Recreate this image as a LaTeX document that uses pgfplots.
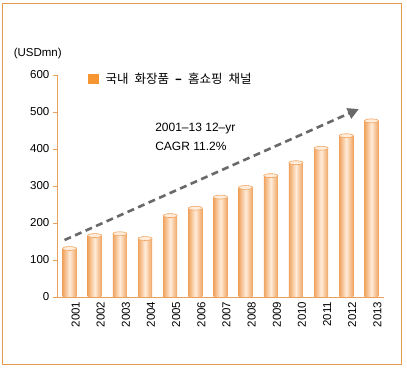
\documentclass[border=0pt]{standalone}
\usepackage{pgfplots}
\pgfplotsset{compat=1.18}
\usepackage{fontspec}
\setmainfont{Liberation Sans}
\newfontfamily\kr{Noto Sans CJK KR}
\usetikzlibrary{arrows.meta}
\definecolor{frameC}{RGB}{228,152,80}
\definecolor{axisC}{RGB}{232,160,90}
\definecolor{barD}{RGB}{240,164,96}
\definecolor{barL}{RGB}{255,236,218}
\definecolor{legC}{RGB}{245,150,50}
\definecolor{arrC}{RGB}{105,105,105}
\pgfplotstableread{
x val
0 131
1 166
2 171
3 158
4 220
5 240
6 270
7 296
8 328
9 363
10 402
11 436
12 476
}\bars
\pgfplotsset{cyl/.style={ybar, bar width=14pt, draw=none, left color=barD, right color=barD, middle color=barL, forget plot}}
\newcommand{\lsp}{\hspace{6pt}}
\begin{document}
\begin{tikzpicture}[x=1pt,y=1pt]
\useasboundingbox (0,0) rectangle (407,372);
\draw[frameC, line width=1pt] (2.5,7.5) rectangle (401.5,368.5);
\begin{axis}[
  at={(57pt,75pt)}, anchor=south west,
  scale only axis, width=327pt, height=222pt,
  xmin=-0.5, xmax=12.5, ymin=0, ymax=600,
  axis x line*=bottom, axis y line*=left,
  axis line style={axisC, line width=0.8pt},
  every tick/.style={axisC, line width=0.8pt},
  tick align=outside,
  ytick={0,100,...,600},
  major tick length=4.5pt,
  xtick={0,...,12},
  xticklabels={2001,2002,2003,2004,2005,2006,2007,2008,2009,2010,2011,2012,2013},
  x tick style={draw=none},
  minor xtick={-0.5,0.5,...,12.5},
  minor tick length=5pt,
  minor x tick style={axisC, line width=0.8pt},
  xticklabel style={rotate=90, anchor=east, font=\fontsize{11.5}{12}\selectfont, inner sep=0pt, yshift=-6pt},
  yticklabel style={font=\fontsize{11.5}{12}\selectfont, inner sep=0pt, xshift=-3pt},
  /pgf/number format/assume math mode=true,
  clip=false,
  legend style={at={(rel axis cs:0.095,0.982)}, anchor=west, draw=none, fill=none, inner sep=0pt,
    font=\kr\fontsize{12.5}{13}\selectfont},
  legend cell align=left,
]
\addplot[cyl] coordinates {(0,131)};
\addplot[cyl] coordinates {(1,166)};
\addplot[cyl] coordinates {(2,171)};
\addplot[cyl] coordinates {(3,158)};
\addplot[cyl] coordinates {(4,220)};
\addplot[cyl] coordinates {(5,240)};
\addplot[cyl] coordinates {(6,270)};
\addplot[cyl] coordinates {(7,296)};
\addplot[cyl] coordinates {(8,328)};
\addplot[cyl] coordinates {(9,363)};
\addplot[cyl] coordinates {(10,402)};
\addplot[cyl] coordinates {(11,436)};
\addplot[cyl] coordinates {(12,476)};
\addplot[only marks, mark=*, mark size=7pt, mark options={yscale=0.28, fill=barL, draw=barD, line width=0.6pt}, forget plot]
  table[x=x,y=val]{\bars};
\addplot[arrC, line width=2.6pt, dash pattern=on 7pt off 4.5pt, -{Triangle[length=11pt,width=11pt]}, forget plot]
  coordinates {(-0.2,154) (11.5,508)};
\addlegendimage{legend image code/.code={\fill[legC] (0pt,-4.5pt) rectangle (10pt,4.5pt);}}
\addlegendentry{\hspace{5pt}국내\lsp 화장품\lsp{\bfseries –}\lsp 홈쇼핑\lsp 채널}
\node[anchor=west, align=left, font=\fontsize{12}{19}\selectfont, inner sep=0pt] at (axis cs:3.4,434) {2001–13 12–yr\\CAGR 11.2\%};
\node[anchor=east, font=\fontsize{11.5}{12}\selectfont, inner sep=0pt] at (rel axis cs:0.015,1.097) {(USDmn)};
\end{axis}
\end{tikzpicture}
\end{document}
